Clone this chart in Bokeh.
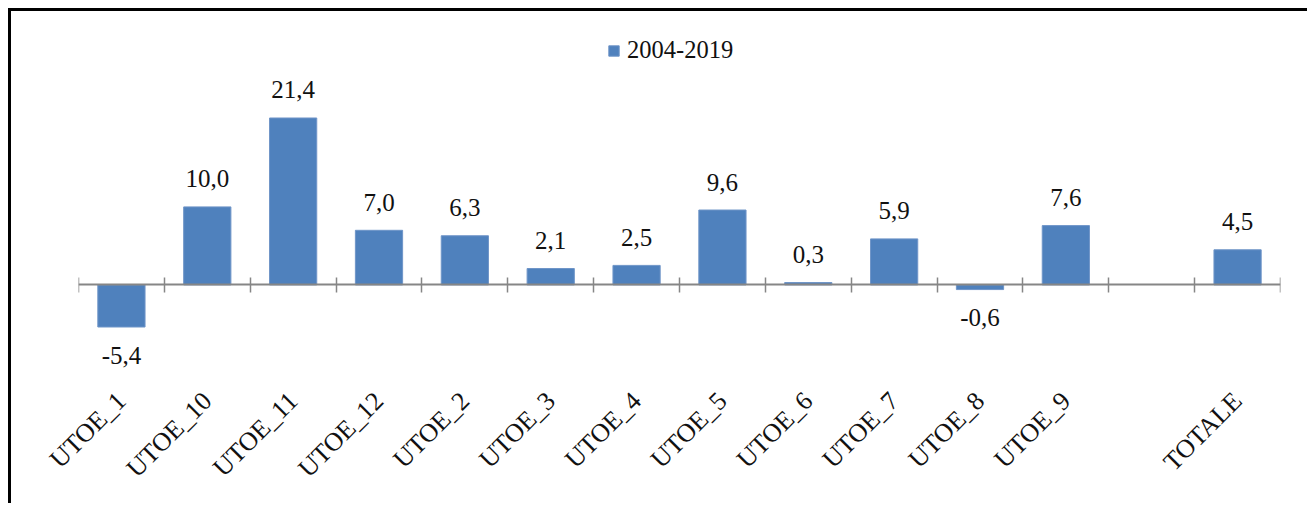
import math
from bokeh.plotting import figure
from bokeh.models import (ColumnDataSource, FixedTicker, LinearAxis, LabelSet, Range1d,
                          CustomJSTickFormatter)
from bokeh.core.properties import value
from bokeh.embed import file_html
from bokeh.resources import INLINE

# ---- data ----
categories = ["UTOE_1", "UTOE_10", "UTOE_11", "UTOE_12", "UTOE_2", "UTOE_3", "UTOE_4",
              "UTOE_5", "UTOE_6", "UTOE_7", "UTOE_8", "UTOE_9", "", "TOTALE"]
values = [-5.4, 10.0, 21.4, 7.0, 6.3, 2.1, 2.5, 9.6, 0.3, 5.9, -0.6, 7.6, None, 4.5]
series_name = "2004-2019"

FONT = "Liberation Serif"
BAR = "#4F81BD"
AXIS = "#868686"

idx = [i for i, v in enumerate(values) if v is not None]
src = ColumnDataSource(dict(
    x=[i + 0.5 for i in idx],
    top=[values[i] for i in idx],
    label=[f"{values[i]:.1f}".replace(".", ",") for i in idx],
    yoff=[28 if values[i] >= 0 else -28 for i in idx],
))

n = len(categories)
p = figure(width=1299, height=495,
           x_range=Range1d(0, n), y_range=Range1d(-12.9, 33.9),
           output_backend="svg", toolbar_location=None,
           x_axis_location="below", y_axis_location=None,
           min_border_left=67, min_border_right=30, min_border_top=9, min_border_bottom=121)
p.grid.visible = False
p.outline_line_color = None
p.background_fill_color = "white"
p.border_fill_color = "white"
p.styles = {"margin-left": "8px", "margin-top": "8px",
            "border-left": "3px solid black", "border-top": "3px solid black"}

p.vbar(x="x", top="top", bottom=0, width=0.55, source=src,
       fill_color=BAR, line_color="#6F95C8", line_width=1, legend_label=series_name)

labels = LabelSet(x="x", y="top", text="label", y_offset="yoff", source=src,
                  text_align="center", text_baseline="middle",
                  text_font=value(FONT), text_font_size="25px", text_color="#111111")
p.add_layout(labels)

# category label axis
xa = p.xaxis[0]
xa.ticker = FixedTicker(ticks=[i + 0.5 for i in range(n)])
xa.formatter = CustomJSTickFormatter(args=dict(names=categories),
                                     code="return names[Math.floor(tick)] || ''")
xa.major_label_orientation = math.pi / 4
xa.axis_line_color = None
xa.major_tick_line_color = None
xa.minor_tick_line_color = None
xa.major_tick_in = 0
xa.major_tick_out = 0
xa.major_label_standoff = 11
xa.major_label_text_font = FONT
xa.major_label_text_font_size = "26px"
xa.major_label_text_color = "#111111"

# zero line axis with boundary ticks
za = LinearAxis(fixed_location=0, ticker=FixedTicker(ticks=list(range(n + 1))),
                formatter=CustomJSTickFormatter(code="return ''"),
                axis_line_color=AXIS, axis_line_width=2,
                major_tick_line_color=AXIS, major_tick_line_width=1.5,
                major_tick_in=7, major_tick_out=8,
                minor_tick_line_color=None)
p.add_layout(za, "below")

lg = p.legend[0]
lg.location = (529, 321)
lg.orientation = "horizontal"
lg.border_line_color = None
lg.background_fill_alpha = 0
lg.padding = 0
lg.margin = 0
lg.glyph_width = 13
lg.glyph_height = 13
lg.label_standoff = 7
lg.label_text_font = FONT
lg.label_text_font_size = "24.5px"
lg.label_text_color = "#111111"

open("out.html", "w").write(file_html(p, INLINE))
